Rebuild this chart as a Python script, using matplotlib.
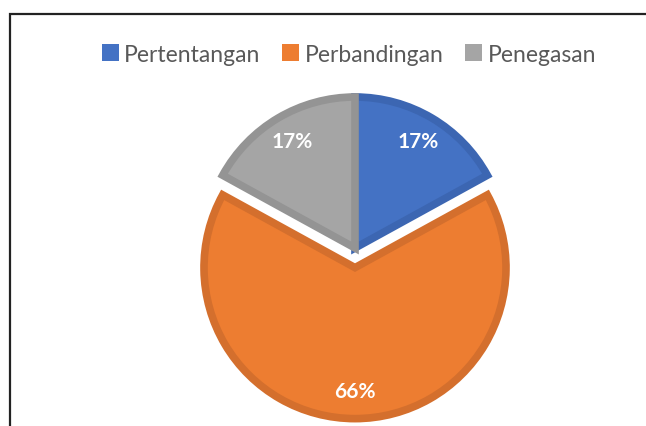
import matplotlib.pyplot as plt
from matplotlib.patches import Patch, Rectangle

# chart data
categories = ["Pertentangan", "Perbandingan", "Penegasan"]
values = [17, 66, 17]
explode = [0, 0.13, 0]

face_colors = ["#4472C4", "#ED7D31", "#A5A5A5"]
edge_colors = ["#3C66B2", "#D46F2D", "#949494"]

W, H = 646, 427
fig = plt.figure(figsize=(W / 100, H / 100), dpi=100)
fig.patch.set_facecolor("white")

# chart frame (cut off on the right / bottom like the screenshot)
fig.add_artist(Rectangle((10 / W, -0.05), 1.1, (H - 15) / H + 0.05,
                         transform=fig.transFigure, fill=False,
                         edgecolor="#222222", linewidth=1.6))

# pie axes, centre at (355, 249) px, radius ~151 px
R = 151
cx, cy = 355, H - 249
half = 200
ax = fig.add_axes([(cx - half) / W, (cy - half) / H, 2 * half / W, 2 * half / H])

wedges, texts, autotexts = ax.pie(
    values, explode=explode, colors=face_colors, startangle=90,
    counterclock=False, radius=1.0, autopct="%1.0f%%", pctdistance=0.82,
    wedgeprops=dict(linewidth=5.5, joinstyle="miter"),
    textprops=dict(color="white", fontsize=15, fontweight="bold", family="Lato"),
)
for w, ec in zip(wedges, edge_colors):
    w.set_edgecolor(ec)

# pie() resets the limits, so set them afterwards
ax.set_xlim(-half / R, half / R)
ax.set_ylim(-half / R, half / R)
ax.set_aspect("equal")
ax.axis("off")

handles = [Patch(facecolor=c, edgecolor="none") for c in face_colors]
fig.legend(handles, categories, loc="center", bbox_to_anchor=(349 / W, 1 - 55 / H),
           ncol=3, frameon=False, handlelength=0.72, handleheight=0.72,
           handletextpad=0.25, columnspacing=0.95, labelcolor="#595959",
           prop=dict(family="Lato", size=16.5))

fig.savefig("out.png", dpi=100)
